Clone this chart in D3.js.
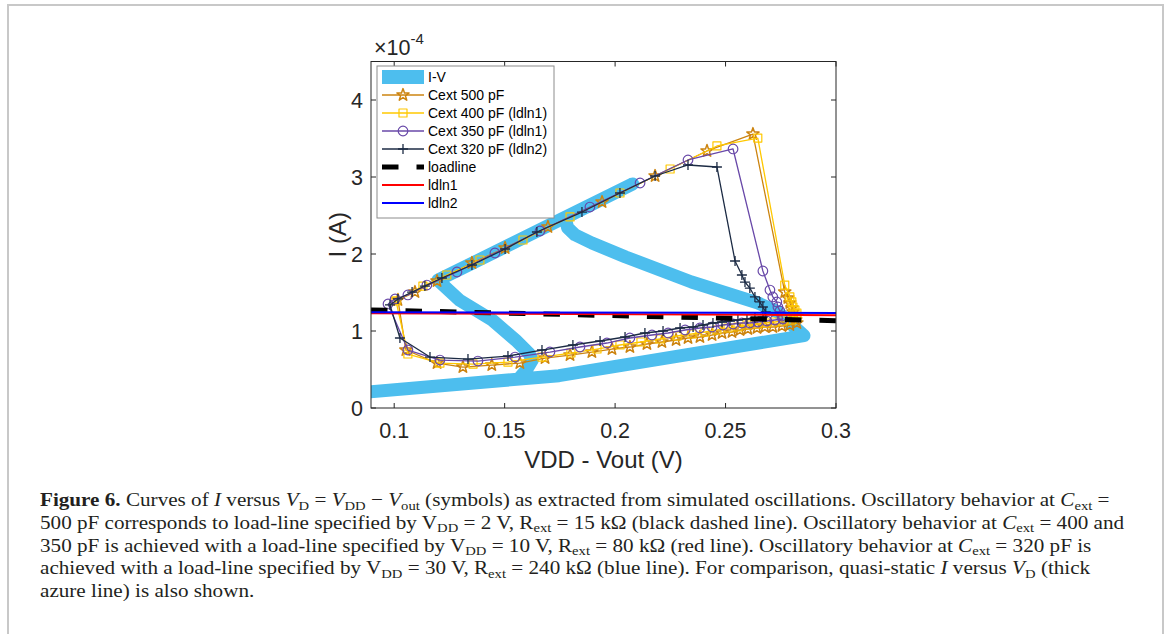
<!DOCTYPE html>
<html><head><meta charset="utf-8">
<script src="https://cdn.jsdelivr.net/npm/d3@7"></script>
<style>body{margin:0;background:#fff} svg{display:block} text{white-space:pre}</style>
</head><body>
<svg id="c" width="1168" height="634"></svg>
<script>
// ---------- data (V in volts, I in units of 1e-4 A) ----------
const xTicks = [0.1, 0.15, 0.2, 0.25, 0.3];
const xTickLabels = ["0.1", "0.15", "0.2", "0.25", "0.3"];
const yTicks = [0, 1, 2, 3, 4];
const yTickLabels = ["0", "1", "2", "3", "4"];
const xDomain = [0.0895, 0.3];
const yDomain = [0, 4.5];

const ivCurve = [[0.085,0.20],[0.1746,0.42],[0.2855,0.94],[0.2737,1.247],[0.2647,1.364],[0.2346,1.636],[0.2048,1.961],[0.1895,2.143],[0.1818,2.25],[0.1785,2.34],[0.1775,2.47],[0.208,2.91],[0.1198,1.66],[0.1296,1.40],[0.1445,1.14],[0.155,0.88],[0.161,0.71],[0.1625,0.62],[0.160,0.50],[0.157,0.40]];

const cext500 = [[0.1017,1.403],[0.1094,1.506],[0.1194,1.649],[0.1352,1.883],[0.1502,2.078],[0.1696,2.351],[0.1941,2.675],[0.2181,3.013],[0.2416,3.338],[0.2624,3.558],
 [0.2768,1.506],[0.2782,1.429],[0.2791,1.364],[0.2800,1.299],[0.2805,1.247],[0.2809,1.195],[0.2818,1.143],[0.2823,1.104],
 [0.2791,1.078],[0.2755,1.065],[0.2714,1.052],[0.2678,1.052],[0.2642,1.039],[0.2601,1.026],[0.2565,1.013],[0.2529,0.987],[0.2484,0.974],[0.2439,0.948],[0.2384,0.922],[0.2330,0.909],[0.2276,0.883],[0.2212,0.857],[0.2144,0.831],[0.2067,0.792],[0.1986,0.766],[0.1895,0.727],[0.1796,0.688],[0.1683,0.649],[0.1569,0.584],[0.1442,0.558],[0.1311,0.532],[0.1194,0.584],[0.1053,0.753],[0.1017,1.403]];

const cext400 = [[0.1008,1.390],[0.1130,1.584],[0.1238,1.727],[0.1388,1.922],[0.1583,2.182],[0.1796,2.481],[0.2022,2.792],[0.2249,3.104],[0.2461,3.403],[0.2646,3.506],
 [0.2768,1.597],[0.2791,1.442],[0.2800,1.377],[0.2805,1.312],[0.2814,1.273],[0.2823,1.234],[0.2823,1.182],
 [0.2800,1.143],[0.2759,1.130],[0.2723,1.117],[0.2682,1.104],[0.2642,1.091],[0.2597,1.078],[0.2556,1.052],[0.2511,1.039],[0.2461,1.013],[0.2407,0.987],[0.2348,0.961],[0.2281,0.935],[0.2203,0.896],[0.2117,0.857],[0.2022,0.818],[0.1918,0.766],[0.1800,0.714],[0.1669,0.662],[0.1515,0.597],[0.1357,0.571],[0.1207,0.584],[0.1062,0.701],[0.1008,1.390]];

const cext350 = [[0.0972,1.351],[0.1004,1.416],[0.1062,1.468],[0.1148,1.597],[0.1284,1.766],[0.1456,2.013],[0.1660,2.299],[0.1886,2.610],[0.2113,2.922],[0.2330,3.221],[0.2534,3.364],
 [0.2669,1.779],[0.2701,1.532],[0.2714,1.442],[0.2732,1.377],[0.2737,1.312],[0.2746,1.260],[0.2755,1.195],
 [0.2759,1.156],[0.2723,1.143],[0.2687,1.130],[0.2646,1.117],[0.2610,1.104],[0.2574,1.104],[0.2534,1.091],[0.2488,1.078],[0.2439,1.052],[0.2384,1.039],[0.2317,1.013],[0.2240,0.974],[0.2167,0.948],[0.2067,0.909],[0.1963,0.844],[0.1841,0.792],[0.1705,0.727],[0.1547,0.662],[0.1379,0.610],[0.1207,0.623],[0.1062,0.753],[0.0972,1.351]];

const cext320 = [[0.0981,1.338],[0.1017,1.416],[0.1081,1.506],[0.1139,1.584],[0.1216,1.688],[0.1352,1.857],[0.1502,2.065],[0.1646,2.286],[0.1850,2.545],[0.2022,2.792],[0.2181,3.013],[0.2330,3.156],[0.2461,3.130],
 [0.2543,1.909],[0.2574,1.727],[0.2588,1.636],[0.2610,1.558],[0.2633,1.442],[0.2655,1.377],[0.2669,1.312],[0.2682,1.247],
 [0.2669,1.182],[0.2633,1.169],[0.2597,1.156],[0.2556,1.143],[0.2520,1.130],[0.2484,1.117],[0.2443,1.104],[0.2398,1.078],[0.2353,1.052],[0.2294,1.039],[0.2217,1.000],[0.2135,0.974],[0.2045,0.922],[0.1932,0.870],[0.1809,0.818],[0.1669,0.753],[0.1515,0.675],[0.1334,0.636],[0.1162,0.662],[0.1026,0.909],[0.0981,1.338]];

const loadline = [[0.0895,1.273],[0.3,1.133]];
const ldln1 = [[0.0895,1.232],[0.3,1.206]];
const ldln2 = [[0.0895,1.243],[0.3,1.234]];

const legendLabels = ["I-V","Cext 500 pF","Cext 400 pF (ldln1)","Cext 350 pF (ldln1)","Cext 320 pF (ldln2)","loadline","ldln1","ldln2"];

const captionLines = [
 [["Figure 6.","b"],[" Curves of ","n"],["I","i"],[" versus ","n"],["V","i"],["D","s"],[" = ","n"],["V","i"],["DD","s"],[" − ","n"],["V","i"],["out","s"],[" (symbols) as extracted from simulated oscillations. Oscillatory behavior at ","n"],["C","i"],["ext","s"],[" =","n"]],
 [["500 pF corresponds to load-line specified by V","n"],["DD","s"],[" = 2 V, R","n"],["ext","s"],[" = 15 kΩ (black dashed line). Oscillatory behavior at ","n"],["C","i"],["ext","s"],[" = 400 and","n"]],
 [["350 pF is achieved with a load-line specified by V","n"],["DD","s"],[" = 10 V, R","n"],["ext","s"],[" = 80 kΩ (red line). Oscillatory behavior at ","n"],["C","i"],["ext","s"],[" = 320 pF is","n"]],
 [["achieved with a load-line specified by V","n"],["DD","s"],[" = 30 V, R","n"],["ext","s"],[" = 240 kΩ (blue line). For comparison, quasi-static ","n"],["I","i"],[" versus ","n"],["V","i"],["D","s"],[" (thick","n"]],
 [["azure line) is also shown.","n"]]
];

// ---------- layout ----------
const P = {l:371, r:836, t:61.5, b:408};
const axisColor = "#262626";
const svg = d3.select("#c");
const x = d3.scaleLinear().domain(xDomain).range([P.l, P.r]);
const y = d3.scaleLinear().domain(yDomain).range([P.b, P.t]);
const line = d3.line().x(d => x(d[0])).y(d => y(d[1]));

svg.append("rect").attr("x",8).attr("y",5).attr("width",1155).attr("height",650)
  .attr("fill","none").attr("stroke","#c8c8c8").attr("stroke-width",2);

svg.append("defs").append("clipPath").attr("id","clip").append("rect")
  .attr("x",P.l).attr("y",P.t).attr("width",P.r-P.l).attr("height",P.b-P.t);

const plot = svg.append("g").attr("clip-path","url(#clip)");

plot.append("path").datum(ivCurve).attr("d",line).attr("fill","none")
  .attr("stroke","#4DBEEE").attr("stroke-width",13)
  .attr("stroke-linejoin","round").attr("stroke-linecap","round");

function starPath(r){const p=[];for(let i=0;i<10;i++){const a=-Math.PI/2+i*Math.PI/5;const rr=i%2?r*0.40:r;p.push([ (rr*Math.cos(a)).toFixed(2),(rr*Math.sin(a)).toFixed(2)]);}return "M"+p.join("L")+"Z";}
const shapes = {
  star: starPath(6.4),
  square: "M-4,-4H4V4H-4Z",
  circle: d3.symbol(d3.symbolCircle, Math.PI*4.8*4.8)(),
  plus: "M-5,0H5M0,-5V5"
};

const series = [
  {data:cext500, color:"#CC8410", shape:"star", mw:1.5},
  {data:cext400, color:"#FFC800", shape:"square", mw:1.2},
  {data:cext350, color:"#6848A8", shape:"circle", mw:1.2},
  {data:cext320, color:"#1C2B44", shape:"plus", mw:1.3}
];

series.forEach(s => {
  plot.append("path").datum(s.data).attr("d",line).attr("fill","none")
    .attr("stroke",s.color).attr("stroke-width",1.3).attr("stroke-linejoin","round");
  plot.append("g").selectAll("path").data(s.data.slice(0,-1)).join("path")
    .attr("transform",d=>`translate(${x(d[0])},${y(d[1])})`)
    .attr("d",shapes[s.shape]).attr("fill","none").attr("stroke",s.color).attr("stroke-width",s.mw)
    .attr("stroke-linejoin","round");
});

plot.append("path").datum(loadline).attr("d",line).attr("stroke","#000").attr("stroke-width",5)
  .attr("stroke-dasharray","16.5,18").attr("fill","none");
plot.append("path").datum(ldln1).attr("d",line).attr("stroke","#FF0000").attr("stroke-width",2).attr("fill","none");
plot.append("path").datum(ldln2).attr("d",line).attr("stroke","#0000FF").attr("stroke-width",2).attr("fill","none");

const ax = svg.append("g").attr("stroke",axisColor).attr("stroke-width",1).attr("fill","none");
ax.append("rect").attr("x",P.l).attr("y",P.t).attr("width",P.r-P.l).attr("height",P.b-P.t);
xTicks.forEach(t => {
  ax.append("line").attr("x1",x(t)).attr("x2",x(t)).attr("y1",P.b).attr("y2",P.b-5);
  ax.append("line").attr("x1",x(t)).attr("x2",x(t)).attr("y1",P.t).attr("y2",P.t+5);
});
yTicks.forEach(t => {
  ax.append("line").attr("y1",y(t)).attr("y2",y(t)).attr("x1",P.l).attr("x2",P.l+5);
  ax.append("line").attr("y1",y(t)).attr("y2",y(t)).attr("x1",P.r).attr("x2",P.r-5);
});
const fontSans = "'Liberation Sans', Arial, Helvetica, sans-serif";
svg.append("g").selectAll("text").data(xTicks).join("text")
  .attr("x",d=>x(d)).attr("y",438).attr("text-anchor","middle")
  .attr("font-family",fontSans).attr("font-size",21.5).attr("fill",axisColor)
  .text((d,i)=>xTickLabels[i]);
svg.append("g").selectAll("text").data(yTicks).join("text")
  .attr("x",363).attr("y",d=>y(d)).attr("dy","0.36em").attr("text-anchor","end")
  .attr("font-family",fontSans).attr("font-size",21.5).attr("fill",axisColor)
  .text((d,i)=>yTickLabels[i]);
svg.append("text").attr("x",(P.l+P.r)/2).attr("y",468).attr("text-anchor","middle")
  .attr("font-family",fontSans).attr("font-size",24).attr("fill",axisColor).text("VDD - Vout (V)");
svg.append("text").attr("transform",`translate(346,${(P.t+P.b)/2}) rotate(-90)`).attr("text-anchor","middle")
  .attr("font-family",fontSans).attr("font-size",24).attr("fill",axisColor).text("I (A)");
const ex = svg.append("text").attr("x",374).attr("y",55).attr("font-family",fontSans).attr("fill",axisColor);
ex.append("tspan").attr("font-size",21.5).text("×10");
ex.append("tspan").attr("font-size",15).attr("dy",-11).text("-4");

const lg = svg.append("g");
lg.append("rect").attr("x",377).attr("y",66).attr("width",177).attr("height",152)
  .attr("fill","#fff").attr("stroke","#8c8c8c").attr("stroke-width",1);
const legendStyles = [
  {color:"#4DBEEE", width:14},
  {color:"#CC8410", width:1.5, shape:"star", mw:1.5},
  {color:"#FFC800", width:1.5, shape:"square", mw:1.2},
  {color:"#6848A8", width:1.5, shape:"circle", mw:1.2},
  {color:"#1C2B44", width:1.5, shape:"plus", mw:1.3},
  {color:"#000", width:5, dash:"16.5,18"},
  {color:"#FF0000", width:2},
  {color:"#0000FF", width:2}
];
legendLabels.forEach((lab,i) => {
  const yy = 77 + i*18;
  const st = legendStyles[i];
  const l = lg.append("line").attr("x1",382).attr("x2",424).attr("y1",yy).attr("y2",yy)
    .attr("stroke",st.color).attr("stroke-width",st.width);
  if (st.dash) l.attr("stroke-dasharray",st.dash);
  if (st.shape) lg.append("path").attr("transform",`translate(403,${yy})`).attr("d",shapes[st.shape])
    .attr("fill","none").attr("stroke",st.color).attr("stroke-width",st.mw).attr("stroke-linejoin","round");
  lg.append("text").attr("x",428).attr("y",yy).attr("dy","0.36em").attr("font-family",fontSans)
    .attr("font-size",14).attr("fill","#000").text(lab);
});

// caption: one uniform horizontal condensation, set from line 2's width
const capBase = [506, 528.75, 551.5, 574.25, 597];
const capNodes = captionLines.map((segs, li) => {
  const t = svg.append("text").attr("font-family","'Liberation Serif','Times New Roman',serif")
    .attr("font-size",19.5).attr("fill","#231f20").attr("transform",`translate(40,${capBase[li]})`);
  let shifted = false;
  segs.forEach(([txt, st]) => {
    const ts = t.append("tspan").text(txt);
    if (st === "b") ts.attr("font-weight","bold");
    if (st === "i") ts.attr("font-style","italic");
    if (st === "s") { ts.attr("font-size",13.5); if (!shifted) { ts.attr("dy",3.5); shifted = true; } }
    else if (shifted) { ts.attr("dy",-3.5); shifted = false; }
  });
  return t;
});
const sx = (1125 - 40) / capNodes[1].node().getComputedTextLength();
capNodes.forEach((t, li) => t.attr("transform",`translate(40,${capBase[li]}) scale(${sx},1)`));
</script>
</body></html>
